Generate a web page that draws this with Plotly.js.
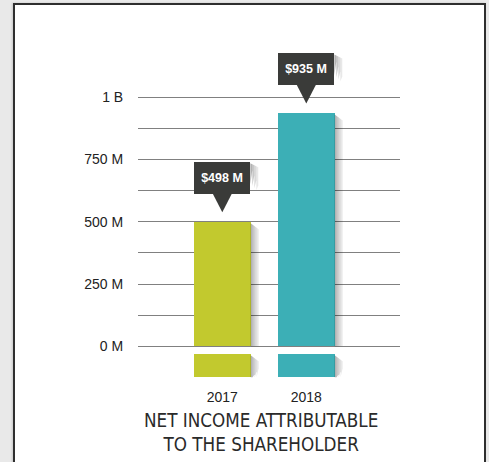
<!DOCTYPE html>
<html>
<head>
<meta charset="utf-8">
<script src="https://cdn.plot.ly/plotly-3.0.1.min.js"></script>
<style>
  html, body { margin: 0; padding: 0; width: 489px; height: 462px; overflow: hidden; background: #e9e9e9; }
  #frame { position: absolute; left: 13px; top: 3px; width: 469px; height: 480px;
           background: #ffffff; border: 2px solid #2e2e2e; box-shadow: -1px 0 2px rgba(0,0,0,0.15); }
  #chart { position: absolute; left: 0; top: 0; width: 489px; height: 462px; }
</style>
</head>
<body>
<div id="frame"></div>
<div id="chart"></div>
<script>
// ---- data ----
const categories = ['2017', '2018'];
const netIncome = [498e6, 935e6];
const calloutLabels = ['$498 M', '$935 M'];
const barColors = ['#c2c92e', '#3cafb6'];
const yTickVals = [0, 125e6, 250e6, 375e6, 500e6, 625e6, 750e6, 875e6, 1e9];
const yTickText = ['0 M', '', '250 M', '', '500 M', '', '750 M', '', '1 B'];
const chartTitle = 'NET INCOME ATTRIBUTABLE<br>TO THE SHAREHOLDER';

// ---- geometry (pixels) ----
const W = 489, H = 462;
const L = 138, R = 400, T = 40, B = 380;
const zeroPx = 346.3, oneBPx = 97.3;
const pxPerUnit = (zeroPx - oneBPx) / 1e9;
const unitPerPx = 1 / pxPerUnit;
const yRange = [-(B - zeroPx) * unitPerPx, (zeroPx - T) * unitPerPx];
const c0 = 222.3, step = 84;
const xRange = [(L - c0) / step, (R - c0) / step];
const barW = 56.7 / step;
const halfBarPx = 56.7 / 2;
const stubTopPx = 8, stubBottomPx = 31;   // decorative stub below the zero line
const stubTop = -stubTopPx * unitPerPx, stubBottom = -stubBottomPx * unitPerPx;

const sans = '"Liberation Sans", Arial, Helvetica, sans-serif';
const cond = '"DejaVu Sans Condensed", "Liberation Sans", sans-serif';

const traces = [
  {
    type: 'bar', x: categories, y: netIncome, width: barW,
    marker: { color: barColors, line: { width: 0 } }, hoverinfo: 'skip'
  },
  {
    type: 'bar', x: categories, y: categories.map(() => stubTop - stubBottom),
    base: categories.map(() => stubBottom), width: barW,
    marker: { color: barColors, line: { width: 0 } }, hoverinfo: 'skip'
  }
];

const shapes = [];
const annotations = [];
const shadowAlpha = [0.30, 0.22, 0.15, 0.09];
categories.forEach((c, i) => {
  const v = netIncome[i];
  shadowAlpha.forEach((a, k) => {
    const x0 = halfBarPx + 2 * k, x1 = x0 + 2;
    const topL = v - (1 + 1.5 * k) * unitPerPx, topR = v - (2.5 + 1.5 * k) * unitPerPx;
    shapes.push({
      type: 'path', layer: 'above', xref: 'x', yref: 'y', xsizemode: 'pixel', xanchor: i,
      path: `M${x0},${topL} L${x1},${topR} L${x1},0 L${x0},0 Z`,
      fillcolor: `rgba(0,0,0,${a})`, line: { width: 0 }
    });
    const sTopL = stubTop - (1 + 1.5 * k) * unitPerPx, sTopR = stubTop - (2.5 + 1.5 * k) * unitPerPx;
    shapes.push({
      type: 'path', layer: 'above', xref: 'x', yref: 'y', xsizemode: 'pixel', xanchor: i,
      path: `M${x0},${sTopL} L${x1},${sTopR} L${x1},${stubBottom + 3 * k * unitPerPx} L${x0},${stubBottom} Z`,
      fillcolor: `rgba(0,0,0,${a})`, line: { width: 0 }
    });
  });
  // callout pointer
  shapes.push({
    type: 'path', layer: 'above', xref: 'x', yref: 'y',
    xsizemode: 'pixel', ysizemode: 'pixel', xanchor: i, yanchor: v,
    path: 'M-9.5,28.5 L9.5,28.5 L0,10 Z',
    fillcolor: '#3a3b39', line: { width: 0 }
  });
  // callout box shadow
  shadowAlpha.forEach((a, k) => {
    const x0 = 28 + 2 * k, x1 = x0 + 2;
    shapes.push({
      type: 'path', layer: 'above', xref: 'x', yref: 'y',
      xsizemode: 'pixel', ysizemode: 'pixel', xanchor: i, yanchor: v,
      path: `M${x0},${59 - k} L${x1},${58 - k} L${x1},${52 - 5 * k} L${x0},${38 - 2 * k} Z`,
      fillcolor: `rgba(0,0,0,${a})`, line: { width: 0 }
    });
  });
  annotations.push({
    x: i, y: v, xref: 'x', yref: 'y', yanchor: 'bottom', yshift: 28,
    showarrow: false, text: '<b>' + calloutLabels[i] + '</b>',
    bgcolor: '#3a3b39', width: 56, height: 32, borderpad: 0, borderwidth: 0,
    font: { family: sans, size: 12.5, color: '#ffffff' }
  });
});

annotations.push({
  xref: 'paper', yref: 'paper', x: (261 - L) / (R - L), y: (B - 432.5) / (B - T),
  xanchor: 'center', yanchor: 'middle', showarrow: false, text: chartTitle,
  font: { family: cond, size: 18.7, color: '#2a2a2a' }
});

const layout = {
  width: W, height: H,
  margin: { l: L, r: W - R, t: T, b: H - B, pad: 0 },
  paper_bgcolor: 'rgba(0,0,0,0)', plot_bgcolor: 'rgba(0,0,0,0)',
  barmode: 'overlay', bargap: 0, showlegend: false,
  xaxis: {
    type: 'category', range: xRange, showgrid: false, zeroline: false, showline: false,
    ticks: 'outside', ticklen: 4, tickcolor: 'rgba(0,0,0,0)',
    tickfont: { family: sans, size: 14, color: '#222222' }, fixedrange: true
  },
  yaxis: {
    range: yRange, tickvals: yTickVals, ticktext: yTickText,
    showgrid: true, gridcolor: '#808080', gridwidth: 1, zeroline: false, showline: false,
    ticks: 'outside', ticklen: 11, tickcolor: 'rgba(0,0,0,0)',
    tickfont: { family: sans, size: 14, color: '#222222' }, fixedrange: true
  },
  shapes: shapes,
  annotations: annotations
};

Plotly.newPlot('chart', traces, layout, { displayModeBar: false, staticPlot: true });
</script>
</body>
</html>
